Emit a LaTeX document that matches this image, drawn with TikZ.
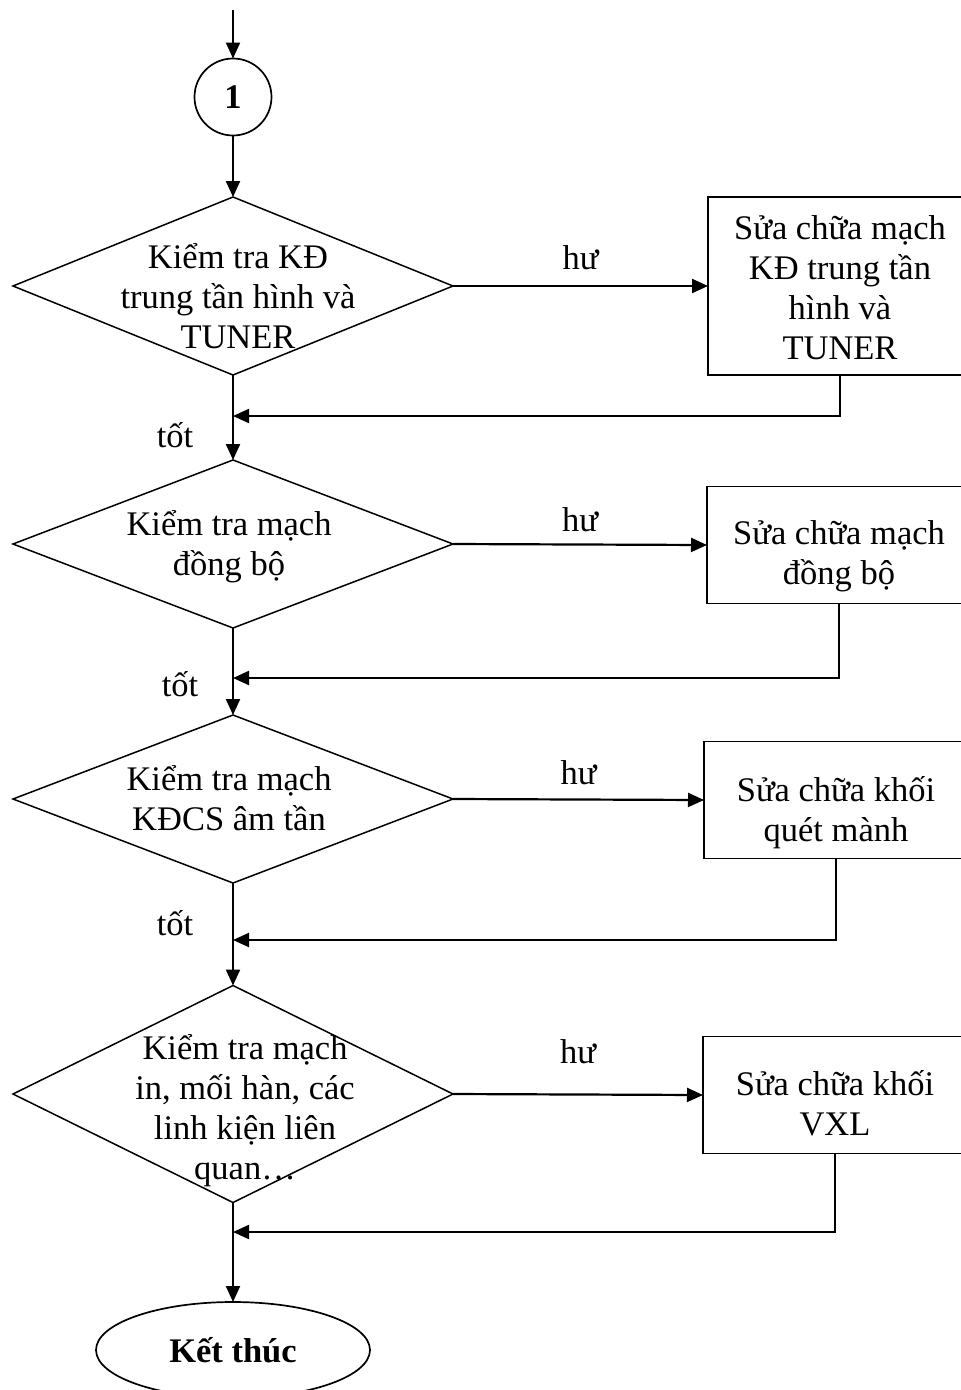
\documentclass[tikz,border=0pt]{standalone}
\usepackage{fontspec}
\setmainfont{Liberation Serif}
\usetikzlibrary{shapes.geometric,arrows.meta}
\tikzset{
  every node/.style={font=\fontsize{34.5}{40}\selectfont},
  decision/.style={diamond,draw,line width=1.5pt,minimum width=440pt,inner sep=0pt,outer sep=0pt},
  repair/.style={rectangle,draw,line width=1.7pt,minimum width=264pt,minimum height=117pt,inner sep=0pt,outer sep=0pt},
  arr/.style={line width=2.2pt,-{Triangle[length=16pt,width=14pt]}},
}
\begin{document}
\begin{tikzpicture}[x=1pt,y=-1pt]
      \clip (0,0) rectangle (961,1390);
      \coordinate (A0) at (233,10);
      \node[circle,draw,line width=1.7pt,minimum size=77pt,inner sep=0pt,outer sep=0pt,font=\fontsize{34.5}{40}\selectfont\bfseries] (C1) at (233,97) {1};
      \node[decision,minimum height=178pt] (D1) at (233,286) {};
      \node[align=center] (T1) at (238,296) {Kiểm tra KĐ\\trung tần hình và\\TUNER};
      \node[decision,minimum height=168pt] (D2) at (233,544) {};
      \node[align=center] (T2) at (229,547) {Kiểm tra mạch\\đồng bộ};
      \node[decision,minimum height=168pt] (D3) at (233,799) {};
      \node[align=center] (T3) at (229,798) {Kiểm tra mạch\\KĐCS âm tần};
      \node[decision,minimum height=217pt] (D4) at (233,1094) {};
      \node[align=center] (T4) at (245,1111) {Kiểm tra mạch\\in, mối hàn, các\\linh kiện liên\\quan…};
      \node[repair,minimum height=178pt] (S1) at (840,286) {};
      \node[align=center] (R1) at (840,288) {Sửa chữa mạch\\KĐ trung tần\\hình và\\TUNER};
      \node[repair] (S2) at (839,545) {};
      \node[align=center] (R2) at (839,556) {Sửa chữa mạch\\đồng bộ};
      \node[repair] (S3) at (836,800) {};
      \node[align=center] (R3) at (836,813) {Sửa chữa khối\\quét mành};
      \node[repair] (S4) at (835,1095) {};
      \node[align=center] (R4) at (835,1103) {Sửa chữa khối\\VXL};
      \node[ellipse,draw,line width=1.7pt,minimum width=274pt,minimum height=96pt,inner sep=0pt,outer sep=0pt,font=\fontsize{34.5}{40}\selectfont\bfseries] (E) at (233,1350) {Kết thúc};
      \coordinate (J1) at (233,416);
      \coordinate (J2) at (233,678);
      \coordinate (J3) at (233,940);
      \coordinate (J4) at (233,1232);
      \node (K1) at (175,435) {tốt};
      \node (K2) at (180,684) {tốt};
      \node (K3) at (175,923) {tốt};
      \draw[arr] (A0) to (C1);
      \draw[arr] (C1) to (D1.north);
      \draw[arr] (D1.south) to (D2.north);
      \draw[arr] (D2.south) to (D3.north);
      \draw[arr] (D3.south) to (D4.north);
      \draw[arr] (D4.south) to (E);
      \draw[arr] (D1.east) to node[above=12pt] (H1) {hư} (S1.west);
      \draw[arr] (D2.east) to node[above=8pt] (H2) {hư} (S2.west);
      \draw[arr] (D3.east) to node[above=10pt] (H3) {hư} (S3.west);
      \draw[arr] (D4.east) to node[above=26pt] (H4) {hư} (S4.west);
      \draw[arr] (S1.south) |- (J1);
      \draw[arr] (S2.south) |- (J2);
      \draw[arr] (S3.south) |- (J3);
      \draw[arr] (S4.south) |- (J4);
    \end{tikzpicture}
\end{document}
